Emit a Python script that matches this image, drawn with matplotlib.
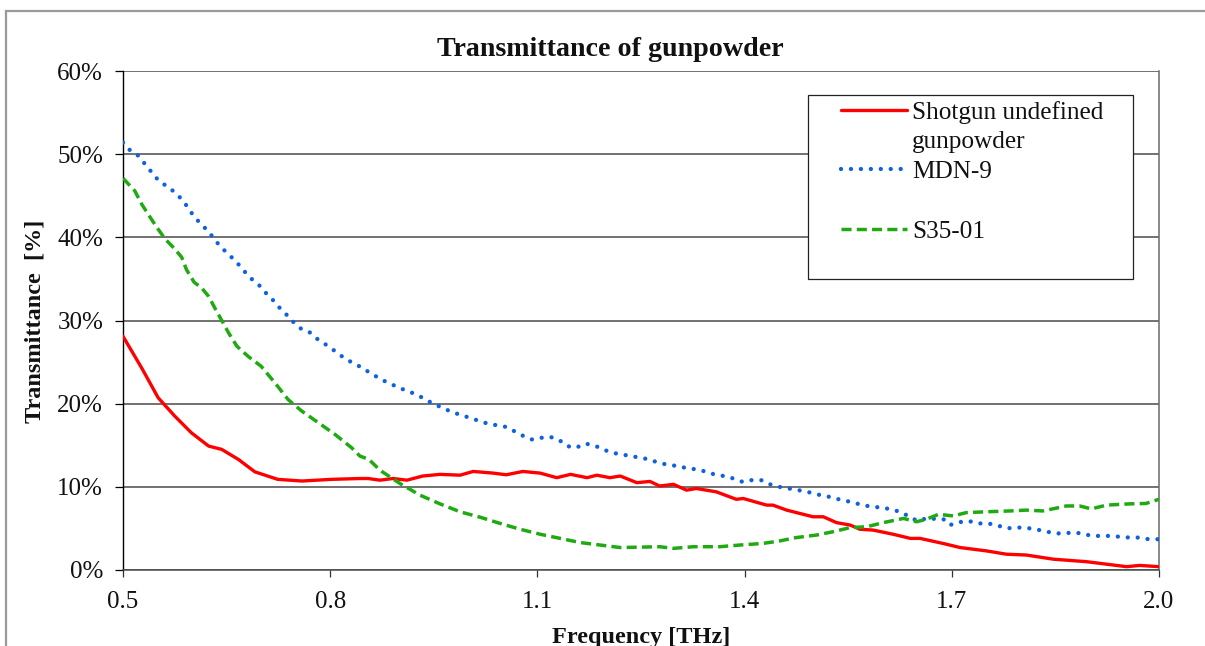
import numpy as np
import matplotlib
matplotlib.use("Agg")
import matplotlib.pyplot as plt
from matplotlib.lines import Line2D
from matplotlib.patches import Rectangle
from matplotlib.legend_handler import HandlerLine2D
from matplotlib.ticker import FuncFormatter

# ---------------- data ----------------
title = "Transmittance of gunpowder"
xlabel = "Frequency [THz]"
ylabel = "Transmittance  [%]"
labels = ["Shotgun undefined\ngunpowder", "MDN-9", "S35-01"]
xticks = [0.5, 0.8, 1.1, 1.4, 1.7, 2.0]
yticks = [0, 10, 20, 30, 40, 50, 60]

shotgun_f = [0.500, 0.527, 0.551, 0.575, 0.599, 0.624, 0.643, 0.667, 0.691, 0.724,
             0.759, 0.802, 0.843, 0.855, 0.872, 0.891, 0.911, 0.934, 0.959, 0.988,
             1.007, 1.036, 1.055, 1.079, 1.104, 1.128, 1.148, 1.172, 1.186, 1.205,
             1.220, 1.244, 1.263, 1.277, 1.297, 1.316, 1.330, 1.359, 1.388, 1.398,
             1.432, 1.441, 1.461, 1.499, 1.514, 1.533, 1.553, 1.567, 1.586, 1.615,
             1.640, 1.654, 1.687, 1.712, 1.750, 1.779, 1.808, 1.847, 1.895, 1.924,
             1.953, 1.972, 2.000]
shotgun_t = [28.1, 24.3, 20.7, 18.5, 16.5, 14.9, 14.5, 13.3, 11.8, 10.9,
             10.7, 10.9, 11.0, 11.0, 10.8, 11.0, 10.8, 11.3, 11.5, 11.4,
             11.85, 11.65, 11.45, 11.85, 11.65, 11.1, 11.5, 11.1, 11.4, 11.1,
             11.3, 10.5, 10.65, 10.1, 10.3, 9.6, 9.8, 9.4, 8.5, 8.6,
             7.8, 7.8, 7.2, 6.4, 6.4, 5.7, 5.4, 4.9, 4.8, 4.3,
             3.8, 3.8, 3.2, 2.7, 2.3, 1.9, 1.8, 1.3, 1.0, 0.7,
             0.4, 0.55, 0.4]

mdn_f = [0.500, 0.508, 0.520, 0.529, 0.538, 0.546, 0.557, 0.568, 0.579, 0.588,
         0.596, 0.604, 0.614, 0.624, 0.632, 0.641, 0.651, 0.661, 0.670, 0.680,
         0.690, 0.699, 0.709, 0.719, 0.728, 0.738, 0.748, 0.758, 0.770, 0.781,
         0.792, 0.804, 0.815, 0.826, 0.838, 0.850, 0.874, 0.900, 0.925, 0.949,
         0.976, 1.002, 1.028, 1.055, 1.080, 1.092, 1.106, 1.119, 1.132, 1.143,
         1.156, 1.169, 1.182, 1.195, 1.208, 1.222, 1.235, 1.249, 1.262, 1.275,
         1.289, 1.303, 1.316, 1.330, 1.343, 1.356, 1.370, 1.384, 1.397, 1.410,
         1.424, 1.437, 1.450, 1.464, 1.478, 1.491, 1.504, 1.518, 1.531, 1.545,
         1.558, 1.571, 1.585, 1.599, 1.612, 1.625, 1.638, 1.650, 1.663, 1.688,
         1.697, 1.711, 1.724, 1.738, 1.752, 1.765, 1.779, 1.793, 1.806, 1.820,
         1.834, 1.848, 1.861, 1.875, 1.889, 1.902, 1.929, 1.957, 1.971, 1.985,
         2.000]
mdn_t = [51.4, 50.6, 50.0, 49.1, 48.2, 47.3, 46.5, 45.9, 45.1, 44.3,
         43.3, 42.4, 41.5, 40.7, 39.8, 38.9, 38.1, 37.3, 36.5, 35.5,
         34.7, 34.1, 33.1, 32.3, 31.4, 30.6, 29.7, 29.0, 28.6, 27.8,
         27.2, 26.5, 25.8, 25.2, 24.7, 24.1, 22.9, 21.9, 21.1, 20.0,
         19.0, 18.3, 17.6, 17.2, 16.1, 15.7, 15.9, 16.0, 15.6, 14.9,
         14.7, 15.2, 15.0, 14.5, 14.1, 13.9, 13.7, 13.5, 13.3, 12.9,
         12.65, 12.5, 12.25, 12.1, 11.85, 11.5, 11.3, 11.0, 10.6, 10.8,
         10.8, 10.3, 10.0, 9.8, 9.6, 9.4, 9.1, 8.9, 8.6, 8.35,
         8.1, 7.8, 7.6, 7.5, 7.3, 7.0, 6.45, 5.9, 6.2, 6.1,
         5.4, 5.75, 5.9, 5.6, 5.6, 5.4, 5.0, 5.1, 5.1, 4.9,
         4.7, 4.4, 4.4, 4.5, 4.4, 4.1, 4.1, 3.9, 3.9, 3.7,
         3.7]

s35_f = [0.500, 0.517, 0.527, 0.537, 0.549, 0.561, 0.575, 0.585, 0.592, 0.603,
         0.614, 0.624, 0.633, 0.643, 0.653, 0.665, 0.681, 0.700, 0.720, 0.739,
         0.759, 0.783, 0.807, 0.831, 0.843, 0.856, 0.872, 0.901, 0.930, 0.959,
         0.988, 1.017, 1.046, 1.075, 1.104, 1.133, 1.162, 1.191, 1.220, 1.249,
         1.277, 1.297, 1.326, 1.364, 1.393, 1.427, 1.451, 1.475, 1.504, 1.528,
         1.553, 1.577, 1.601, 1.630, 1.649, 1.663, 1.681, 1.702, 1.721, 1.750,
         1.784, 1.808, 1.832, 1.866, 1.885, 1.902, 1.924, 1.957, 1.981, 2.000]
s35_t = [47.1, 45.6, 44.0, 42.7, 41.2, 39.8, 38.6, 37.6, 36.1, 34.6,
         33.9, 32.9, 31.5, 30.0, 28.5, 26.9, 25.7, 24.5, 22.5, 20.5,
         19.1, 17.7, 16.3, 14.7, 13.7, 13.3, 12.0, 10.4, 9.0, 7.95,
         7.0, 6.35, 5.6, 4.9, 4.3, 3.8, 3.3, 3.0, 2.7, 2.75,
         2.8, 2.6, 2.8, 2.8, 3.0, 3.2, 3.5, 3.9, 4.2, 4.6,
         5.1, 5.2, 5.7, 6.2, 5.8, 6.1, 6.7, 6.5, 6.9, 7.0,
         7.1, 7.2, 7.1, 7.7, 7.7, 7.35, 7.8, 7.95, 8.0, 8.5]

# ---------------- style ----------------
plt.rcParams['font.family'] = ['Liberation Serif', 'DejaVu Serif']
RED = '#FF0000'
BLUE = '#0F62DE'
GREEN = '#1FAA12'
GRID = '#4a4a4a'

W, H = 1205, 646
fig = plt.figure(figsize=(W / 100, H / 100), dpi=100)
fig.patch.set_facecolor('white')

# outer chart border (gray), open to the right/bottom like the cropped reference
fig.add_artist(Rectangle((6 / W, -0.2), 1.2, 0.2 + (H - 11) / H,
                         transform=fig.transFigure, fill=False,
                         edgecolor='#9a9a9a', linewidth=1.6))

ax = fig.add_axes([123 / W, (H - 570) / H, (1159 - 123) / W, (570 - 71) / H])

ax.plot(shotgun_f, shotgun_t, color=RED, lw=2.4, solid_capstyle='round',
        solid_joinstyle='round', label=labels[0], zorder=3)
ax.plot(mdn_f, mdn_t, color=BLUE, lw=3.1, linestyle=(0, (0.01, 2.3)),
        dash_capstyle='round', label=labels[1], zorder=3)
ax.plot(s35_f, s35_t, color=GREEN, lw=2.5, linestyle=(0, (2.9, 1.5)),
        dash_capstyle='butt', label=labels[2], zorder=3)

ax.set_xlim(0.5, 2.0)
ax.set_ylim(0, 60)
ax.set_xticks(xticks)
ax.set_xticklabels([f"{v:.1f}" for v in xticks])
ax.set_yticks(yticks)
ax.yaxis.set_major_formatter(FuncFormatter(lambda v, p: f"{v:.0f}%"))

ax.grid(axis='y', color=GRID, linewidth=1.1, zorder=1)
ax.set_axisbelow(True)
ax.spines['top'].set_visible(False)
ax.spines['left'].set_color('black')
ax.spines['left'].set_linewidth(1.0)
ax.spines['bottom'].set_color(GRID)
ax.spines['bottom'].set_linewidth(1.1)
ax.spines['right'].set_color('#6a6a6a')
ax.spines['right'].set_linewidth(1.1)

ax.tick_params(axis='y', direction='out', length=5.8, width=0.9, color='black',
               labelsize=18, pad=8.5, labelcolor='#111111')
ax.tick_params(axis='x', direction='out', length=5.0, width=0.9, color='#333333',
               labelsize=18, pad=10.0, labelcolor='#111111')

# titles
fig.text(610 / W, 1 - 49 / H, title, ha='center', va='center',
         fontsize=20.2, fontweight='bold', color='#111111')
fig.text(35 / W, 1 - 321 / H, ylabel, ha='center', va='center', rotation=90,
         fontsize=17.5, fontweight='bold', color='#111111')
fig.text(641 / W, (H - 643) / H, xlabel, ha='center', va='baseline',
         fontsize=17.5, fontweight='bold', color='#111111')

# legend (Excel-style: two text rows per entry, handle on first row)
LEG_FS = 18.2
HL = 3.69
START_PT = 27.4 / 100 * 72


def shift_handle(legend_handle, orig_handle):
    legend_handle.update_from(orig_handle)
    xd = np.asarray(legend_handle.get_xdata(), dtype=float)
    legend_handle.set_xdata(np.linspace(START_PT, xd[-1], len(xd)))


h_lines = ax.get_lines()
blank = Line2D([], [], linestyle='none')
handles = [h_lines[0], blank, h_lines[1], blank, h_lines[2], blank]
first, second = labels[0].split("\n")
leg_labels = [first, second, labels[1], " ", labels[2], " "]
hmap = {h: HandlerLine2D(update_func=shift_handle) for h in h_lines}
leg = ax.legend(handles, leg_labels, handler_map=hmap,
                loc='upper left',
                bbox_to_anchor=(808 / W, 1 - 95 / H, 325 / W, 0),
                bbox_transform=fig.transFigure, mode='expand',
                borderaxespad=0, borderpad=0.22, labelspacing=0.285,
                handlelength=HL, handletextpad=0.2, fontsize=LEG_FS,
                fancybox=False, framealpha=1, edgecolor='#222222')
leg.get_frame().set_linewidth(0.9)
for t in leg.get_texts():
    t.set_color('#111111')

fig.savefig('out.png', dpi=100, facecolor='white')
